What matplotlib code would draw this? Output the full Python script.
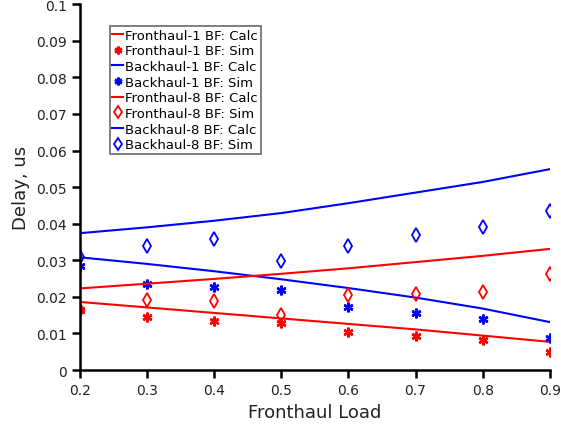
import matplotlib
matplotlib.use("Agg")
import matplotlib.pyplot as plt
import numpy as np

load = [0.2, 0.3, 0.4, 0.5, 0.6, 0.7, 0.8, 0.9]
fh1_calc = [0.0186, 0.0171, 0.0156, 0.0141, 0.0126, 0.0111, 0.0094, 0.0077]
fh1_sim = [0.0163, 0.0144, 0.0135, 0.0128, 0.0103, 0.0094, 0.0081, 0.0049]
bh1_calc = [0.0308, 0.0290, 0.0270, 0.0248, 0.0224, 0.0198, 0.0168, 0.0131]
bh1_sim = [0.0285, 0.0235, 0.0226, 0.0220, 0.0172, 0.0157, 0.0139, 0.0088]
fh8_calc = [0.0223, 0.0236, 0.0249, 0.0263, 0.0278, 0.0295, 0.0312, 0.0331]
fh8_sim = [0.0165, 0.0190, 0.0188, 0.0151, 0.0205, 0.0207, 0.0214, 0.0263]
bh8_calc = [0.0374, 0.0390, 0.0408, 0.0429, 0.0456, 0.0485, 0.0514, 0.0549]
bh8_sim = [0.0310, 0.0340, 0.0357, 0.0297, 0.0339, 0.0370, 0.0392, 0.0434]

xticks = [0.2, 0.3, 0.4, 0.5, 0.6, 0.7, 0.8, 0.9]
yticks = [0, 0.01, 0.02, 0.03, 0.04, 0.05, 0.06, 0.07, 0.08, 0.09, 0.1]
ytick_labels = ["0", "0.01", "0.02", "0.03", "0.04", "0.05", "0.06", "0.07", "0.08", "0.09", "0.1"]
xtick_labels = ["0.2", "0.3", "0.4", "0.5", "0.6", "0.7", "0.8", "0.9"]

fig = plt.figure(figsize=(5.61, 4.31), dpi=100)
ax = fig.add_axes([0.1426, 0.1392, 0.8374, 0.8488])

star = (6, 2, 0)
lw = 1.5
ax.plot(load, fh1_calc, color="red", lw=lw, label="Fronthaul-1 BF: Calc")
ax.plot(load, fh1_sim, ls="none", marker=star, ms=7, mew=1.8, color="red", label="Fronthaul-1 BF: Sim")
ax.plot(load, bh1_calc, color="blue", lw=lw, label="Backhaul-1 BF: Calc")
ax.plot(load, bh1_sim, ls="none", marker=star, ms=7, mew=1.8, color="blue", label="Backhaul-1 BF: Sim")
ax.plot(load, fh8_calc, color="red", lw=lw, label="Fronthaul-8 BF: Calc")
ax.plot(load, fh8_sim, ls="none", marker="d", ms=7.5, mew=1.3, mfc="none", color="red", label="Fronthaul-8 BF: Sim")
ax.plot(load, bh8_calc, color="blue", lw=lw, label="Backhaul-8 BF: Calc")
ax.plot(load, bh8_sim, ls="none", marker="d", ms=7.5, mew=1.3, mfc="none", color="blue", label="Backhaul-8 BF: Sim")

ax.set_xlim(0.2, 0.9)
ax.set_ylim(0, 0.1)
ax.set_xticks(xticks)
ax.set_xticklabels(xtick_labels)
ax.set_yticks(yticks)
ax.set_yticklabels(ytick_labels)
ax.tick_params(direction="out", length=6, width=1.8, labelsize=10, colors="black", labelcolor="#222222")
for s in ["top", "right"]:
    ax.spines[s].set_visible(False)
for s in ["left", "bottom"]:
    ax.spines[s].set_linewidth(1.8)
ax.set_xlabel("Fronthaul Load", fontsize=13, color="#222222")
ax.set_ylabel("Delay, us", fontsize=13, color="#222222")

leg = ax.legend(loc="upper left", bbox_to_anchor=(0.063, 0.94), fontsize=9.5,
                handlelength=0.8, handletextpad=0.2, borderpad=0.2, labelspacing=0.2,
                markerscale=0.8, fancybox=False, frameon=True, borderaxespad=0)
leg.get_frame().set_edgecolor("#444444")
leg.get_frame().set_linewidth(1.2)

fig.savefig("out.png", dpi=100)
